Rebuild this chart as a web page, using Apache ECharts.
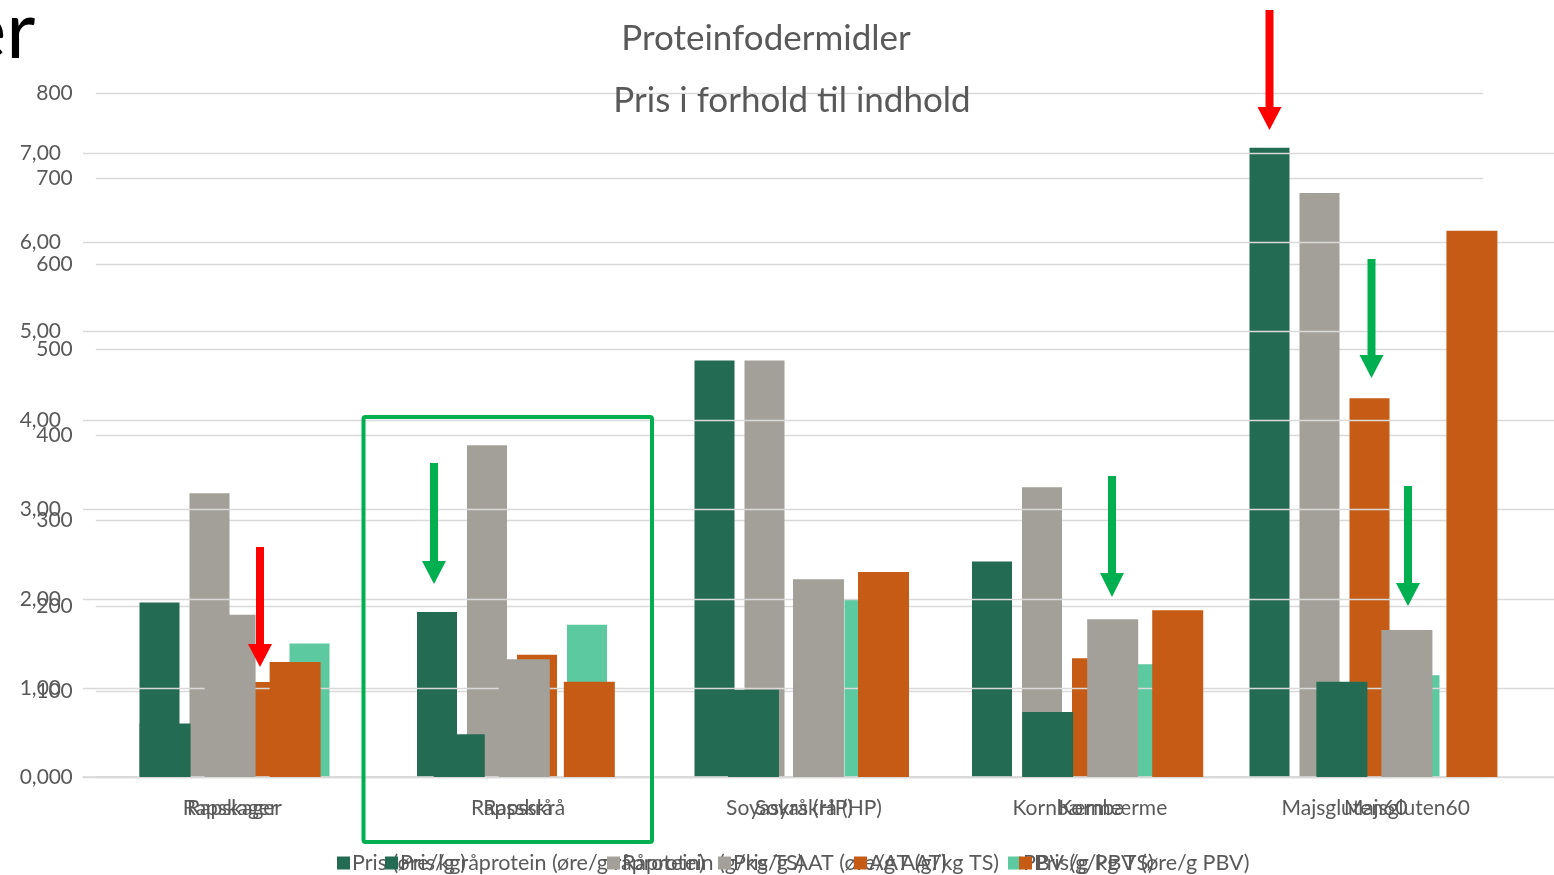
<!DOCTYPE html>
<html>
<head>
<meta charset="utf-8">
<script src="https://cdn.jsdelivr.net/npm/echarts@6/dist/echarts.min.js"></script>
<style>
html,body{margin:0;padding:0;background:#fff;}
#chart{width:1554px;height:875px;}
</style>
</head>
<body>
<div id="chart"></div>
<script>
// ---------- data ----------
const categories = ['Rapskager', 'Rapsskrå', 'Soyaskrå (HP)', 'Kornbærme', 'Majsgluten60'];
// Chart 1: Proteinfodermidler (left scale 0-800)
const pris       = [204, 193, 487, 252, 736];
const raaprotein = [332, 388, 487, 339, 683];
const aat        = [111, 143, 219, 139, 443];
const pbv        = [156, 178, 208, 132, 119];
// Chart 2: Pris i forhold til indhold (scale 0-8)
const prisPrRaaprotein = [0.60, 0.48, 0.98, 0.73, 1.07];
const prisPrAAT        = [1.82, 1.32, 2.22, 1.77, 1.65];
const prisPrPBV        = [1.29, 1.07, 2.30, 1.87, 6.13];

const names1 = ['Pris (øre/kg)', 'Råprotein (g/kg TS)', 'AAT (g/kg TS)', 'PBV (g/kg TS)'];
const names2 = ['Pris/g råprotein (øre/g råprotein)', 'Pris/g AAT (øre/g AAT)', 'Pris/g PBV (øre/g PBV)'];
const title1 = 'Proteinfodermidler';
const title2 = 'Pris i forhold til indhold';

// ---------- style ----------
const C_DG = '#246B53', C_GR = '#A3A099', C_OR = '#C55B14', C_LG = '#5CC9A1';
const TXT = '#595959', GRID = '#D9D9D9';
const FONT = 'Lato';

const chart = echarts.init(document.getElementById('chart'), null, {renderer: 'canvas'});

function legendAt(name, left) {
  return {
    data: [name], left: left, top: 852, itemWidth: 13, itemHeight: 13, itemGap: 0,
    icon: 'rect', padding: 0,
    textStyle: {color: TXT, fontSize: 21.5, fontFamily: FONT, padding: [0, 0, 0, -3]},
    selectedMode: false
  };
}

function arrow(cx, y0, yBase, yTip, shaftW, headW, color) {
  return {
    type: 'polygon', z: 50,
    shape: {points: [
      [cx - shaftW / 2, y0], [cx + shaftW / 2, y0], [cx + shaftW / 2, yBase],
      [cx + headW / 2, yBase], [cx, yTip], [cx - headW / 2, yBase], [cx - shaftW / 2, yBase]
    ]},
    style: {fill: color}
  };
}

const axisText = {color: TXT, fontSize: 21, fontFamily: FONT};

const option = {
  animation: false,
  backgroundColor: '#fff',
  title: [
    {text: title1, left: 766, top: 21, textAlign: 'center', padding: 0,
     textStyle: {color: TXT, fontSize: 35, fontWeight: 'normal', fontFamily: FONT}},
    {text: title2, left: 792, top: 83, textAlign: 'center', padding: 0,
     textStyle: {color: TXT, fontSize: 35, fontWeight: 'normal', fontFamily: FONT}}
  ],
  legend: [
    legendAt(names1[0], 337),
    legendAt(names2[0], 385),
    legendAt(names1[1], 607),
    legendAt(names2[1], 718),
    legendAt(names1[2], 854),
    legendAt(names1[3], 1008),
    legendAt(names2[2], 1019)
  ],
  grid: [
    {left: 95.75, right: 70.75, top: 93, bottom: 98, containLabel: false},
    {left: 83, right: 0, top: 64, bottom: 98, containLabel: false}
  ],
  xAxis: [
    {type: 'category', gridIndex: 0, data: categories, z: 0,
     axisLine: {lineStyle: {color: GRID, width: 1.5}}, axisTick: {show: false},
     axisLabel: Object.assign({margin: 21}, axisText)},
    {type: 'category', gridIndex: 1, data: categories, z: 3,
     axisLine: {lineStyle: {color: GRID, width: 1.5}}, axisTick: {show: false},
     axisLabel: Object.assign({margin: 21}, axisText)}
  ],
  yAxis: [
    {type: 'value', gridIndex: 0, min: 0, max: 800, interval: 100, z: 0,
     axisLine: {show: false}, axisTick: {show: false},
     axisLabel: Object.assign({margin: 23}, axisText),
     splitLine: {lineStyle: {color: GRID, width: 1.4}}},
    {type: 'value', gridIndex: 1, min: 0, max: 8, interval: 1, z: 3,
     axisLine: {show: false}, axisTick: {show: false},
     axisLabel: Object.assign({margin: 22, showMaxLabel: false,
       formatter: v => v.toFixed(2).replace('.', ',')}, axisText),
     splitLine: {showMaxLine: false, lineStyle: {color: GRID, width: 1.4}}}
  ],
  series: [
    {name: names1[0], type: 'bar', xAxisIndex: 0, yAxisIndex: 0, data: pris, z: 2,
     barWidth: 40, barGap: '25%', itemStyle: {color: C_DG}},
    {name: names1[1], type: 'bar', xAxisIndex: 0, yAxisIndex: 0, data: raaprotein, z: 2,
     barWidth: 40, barGap: '25%', itemStyle: {color: C_GR}},
    {name: names1[2], type: 'bar', xAxisIndex: 0, yAxisIndex: 0, data: aat, z: 2,
     barWidth: 40, barGap: '25%', itemStyle: {color: C_OR}},
    {name: names1[3], type: 'bar', xAxisIndex: 0, yAxisIndex: 0, data: pbv, z: 2,
     barWidth: 40, barGap: '25%', itemStyle: {color: C_LG}},
    {name: names2[0], type: 'bar', xAxisIndex: 1, yAxisIndex: 1, data: prisPrRaaprotein, z: 5,
     barWidth: 51, barGap: '27.5%', itemStyle: {color: C_DG}},
    {name: names2[1], type: 'bar', xAxisIndex: 1, yAxisIndex: 1, data: prisPrAAT, z: 5,
     barWidth: 51, barGap: '27.5%', itemStyle: {color: C_GR}},
    {name: names2[2], type: 'bar', xAxisIndex: 1, yAxisIndex: 1, data: prisPrPBV, z: 5,
     barWidth: 51, barGap: '27.5%', itemStyle: {color: C_OR}}
  ],
  graphic: [
    {type: 'text', left: -36, top: -8, z: 50,
     style: {text: 'er', fill: '#000', fontSize: 80, fontFamily: FONT}},
    {type: 'rect', z: 50, shape: {x: 363.5, y: 417, width: 288.5, height: 425, r: 2},
     style: {fill: 'none', stroke: '#00B050', lineWidth: 4}},
    arrow(1269.5, 10, 107, 130, 8, 24, '#FF0000'),
    arrow(260, 547, 644, 667, 8, 24, '#FF0000'),
    arrow(434, 463, 561, 584, 8, 24, '#00B050'),
    arrow(1112, 476, 573, 597, 8, 24, '#00B050'),
    arrow(1371.5, 259, 355, 378, 8, 24, '#00B050'),
    arrow(1408, 486, 583, 606, 8, 24, '#00B050')
  ]
};
chart.setOption(option);
</script>
</body>
</html>
